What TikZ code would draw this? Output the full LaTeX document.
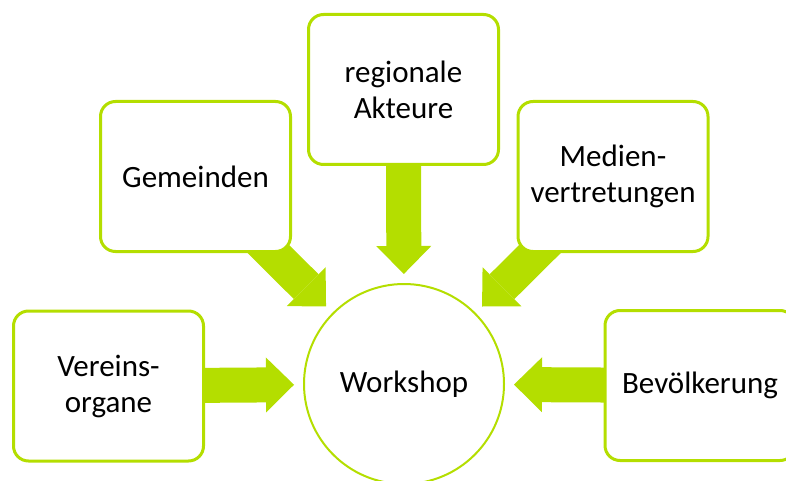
\documentclass[tikz,border=0pt]{standalone}
\usepackage{fontspec}
\setmainfont{Carlito}
\usetikzlibrary{arrows.meta,backgrounds}
\definecolor{wsgreen}{RGB}{180,222,0}
\begin{document}
\begin{tikzpicture}[x=1pt,y=-1pt,font=\fontsize{31}{36}\selectfont,
  box/.style={draw=wsgreen,line width=3pt,fill=white,rounded corners=15pt,minimum width=190pt,minimum height=150pt,align=center},
  fat/.style={draw=wsgreen,line width=35pt,shorten >=9pt,-{Triangle[length=28pt,width=55pt,line width=0pt]}}]
\useasboundingbox (0,0) rectangle (786,481);
\node[draw=wsgreen,line width=2pt,fill=white,circle,minimum size=200pt] (W) at (404,384) {Workshop};
\node[box] (R) at (403.5,89.5) {regionale\\Akteure};
\node[box] (G) at (195.5,176.5) {Gemeinden};
\node[box] (M) at (613,176.5) {Medien-\\vertretungen};
\node[box] (V) at (108.5,386) {Vereins-\\organe};
\node[box] (B) at (700,385.5) {Bevölkerung};
\begin{scope}[on background layer]
\draw[fat] (R.center) -- (W);
\draw[fat] (G.center) -- (W);
\draw[fat] (M.center) -- (W);
\draw[fat] (V.center) -- (W);
\draw[fat] (B.center) -- (W);
\end{scope}
\end{tikzpicture}
\end{document}
